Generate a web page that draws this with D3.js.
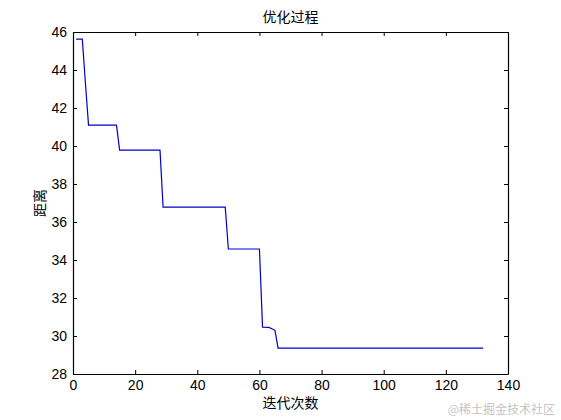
<!DOCTYPE html>
<html>
<head>
<meta charset="utf-8">
<script src="https://cdn.jsdelivr.net/npm/d3@7"></script>
<style>
  body { margin: 0; background: #fff; }
  svg { display: block; }
</style>
</head>
<body>
<div id="chart"></div>
<script>
// breakpoints of the best-distance curve (flat runs between them)
var iters = [1, 3, 4, 5, 14, 15, 28, 29, 49, 50, 60, 61, 63, 64, 65, 66, 132];
var dist  = [45.62, 45.62, 43.3, 41.1, 41.1, 39.78, 39.78, 36.78, 36.78, 34.58, 34.58, 30.47, 30.45, 30.38, 30.3, 29.36, 29.36];
var xTicks = [0, 20, 40, 60, 80, 100, 120, 140];
var yTicks = [28, 30, 32, 34, 36, 38, 40, 42, 44, 46];

var W = 561, H = 420;
var margin = {top: 32, right: 53, bottom: 46, left: 73},
    width = W - margin.left - margin.right,
    height = H - margin.top - margin.bottom;

var svg = d3.select("#chart").append("svg")
  .attr("width", W)
  .attr("height", H);

var g = svg.append("g")
  .attr("transform", "translate(" + margin.left + "," + margin.top + ")");

var x = d3.scaleLinear().domain([0, 140]).range([0, width]);
var y = d3.scaleLinear().domain([28, 46]).range([height, 0]);

var tickFont = "'Liberation Sans', Arial, sans-serif";
var cjkFont = "'Noto Sans CJK SC', sans-serif";

// axes, MATLAB style: ticks inside on all four sides
var xb = g.append("g").attr("transform", "translate(0," + height + ")")
  .call(d3.axisBottom(x).tickValues(xTicks).tickSizeInner(-4).tickSizeOuter(0).tickPadding(6));
var xt = g.append("g")
  .call(d3.axisTop(x).tickValues(xTicks).tickSizeInner(-4).tickSizeOuter(0).tickFormat(""));
var yl = g.append("g")
  .call(d3.axisLeft(y).tickValues(yTicks).tickSizeInner(-4).tickSizeOuter(0).tickPadding(6));
var yr = g.append("g").attr("transform", "translate(" + width + ",0)")
  .call(d3.axisRight(y).tickValues(yTicks).tickSizeInner(-4).tickSizeOuter(0).tickFormat(""));

[xb, xt, yl, yr].forEach(function(a) {
  a.selectAll("path").attr("stroke", "#000").attr("stroke-width", 1.2);
  a.selectAll("line").attr("stroke", "#000");
  a.selectAll("text").attr("fill", "#000")
    .style("font-family", tickFont).style("font-size", "14px");
});

var line = d3.line()
  .x(function(d, i) { return x(iters[i]); })
  .y(function(d) { return y(d); });

g.append("path")
  .datum(dist)
  .attr("fill", "none")
  .attr("stroke", "#0000cc")
  .attr("stroke-width", 1.2)
  .attr("d", line);

// title and axis labels
svg.append("text")
  .attr("x", margin.left + width / 2).attr("y", 22)
  .attr("text-anchor", "middle")
  .style("font-family", cjkFont).style("font-size", "14px")
  .text("优化过程");

svg.append("text")
  .attr("x", margin.left + width / 2).attr("y", 408)
  .attr("text-anchor", "middle")
  .style("font-family", cjkFont).style("font-size", "14px")
  .text("迭代次数");

svg.append("text")
  .attr("transform", "translate(45," + (margin.top + height / 2) + ") rotate(-90)")
  .attr("text-anchor", "middle")
  .style("font-family", cjkFont).style("font-size", "14px")
  .text("距离");

// watermark
svg.append("text")
  .attr("x", 555).attr("y", 414)
  .attr("text-anchor", "end")
  .attr("fill", "#c4c4c4")
  .style("font-family", cjkFont).style("font-size", "12px")
  .text("@稀土掘金技术社区");
</script>
</body>
</html>
